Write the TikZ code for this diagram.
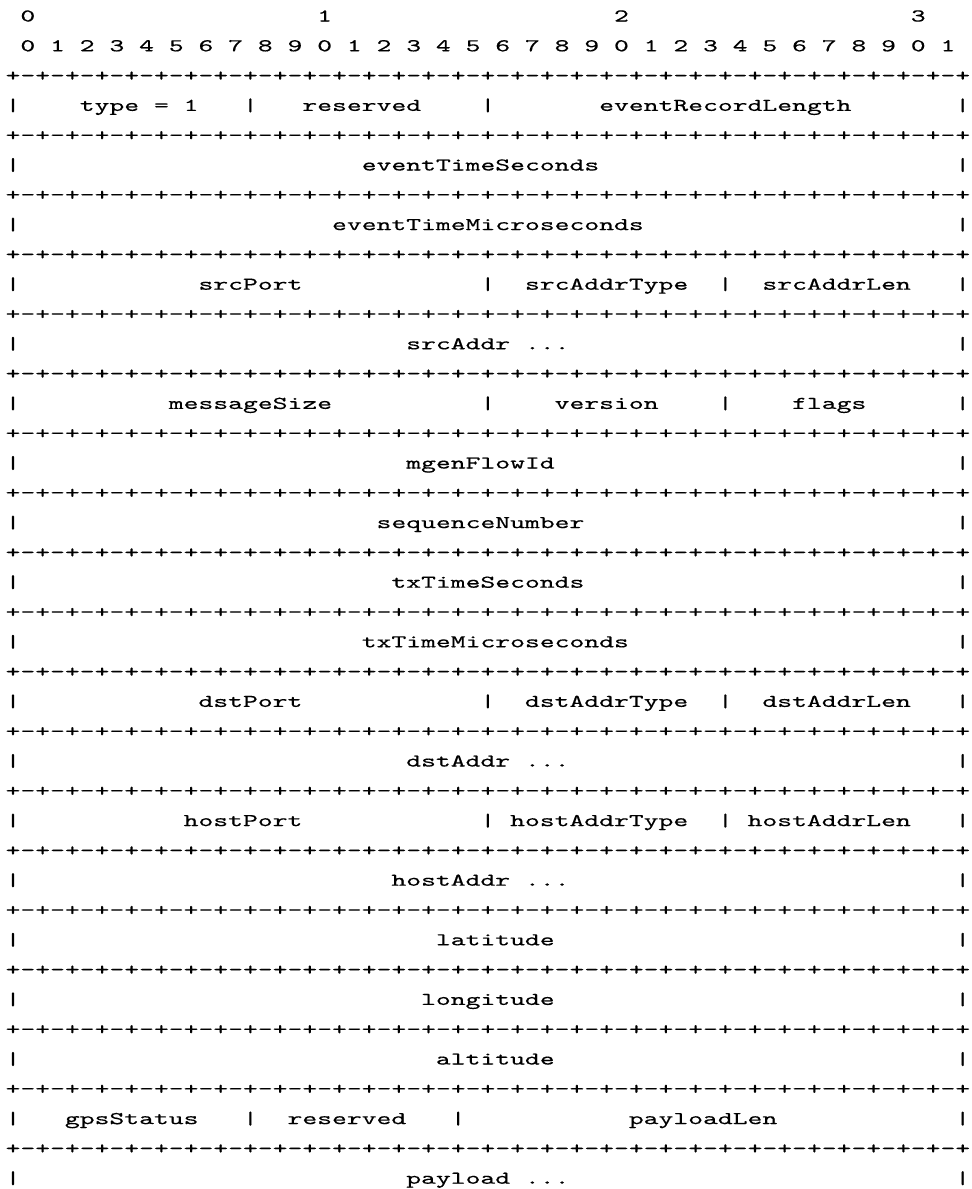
\documentclass[tikz,border=0pt]{standalone}
\usepackage{fontspec}
\newfontfamily\gridfont{lmmono10-regular}[Extension=.otf, FakeStretch=1.5704, FakeBold=0.4]
\newcommand\tripledot{...}
\tikzset{
  ch/.style={anchor=base west, inner sep=0pt, outer sep=0pt, text=black,
             font=\gridfont\fontsize{9}{9}\selectfont},
}
\begin{document}
\begin{tikzpicture}[x=0.5pt,y=-0.5pt]
\fill[white] (0,0) rectangle (972,1189);
\useasboundingbox (0,0) rectangle (972,1189);
% column left edge: 5.58 + 14.84*col ; baseline: 21.5 + 29.8*line
% bit-number header
\foreach \coli/\txti [count=\n] in {1/0, 21/1, 41/2, 61/3}
  \node[ch] (hd\n) at ({5.58+14.84*\coli},{21.5}) {\txti};
\foreach \k in {0,...,31}{
  \pgfmathtruncatemacro\dg{mod(\k,10)}
  \node[ch] (bit\k) at ({5.58+14.84*(2*\k+1)},{21.5+29.8}) {\dg};
}
% separator lines
\foreach \k in {2,4,...,38}
  \node[ch] (sep\k) at (5.58,{21.5+29.8*\k}) {+-+-+-+-+-+-+-+-+-+-+-+-+-+-+-+-+-+-+-+-+-+-+-+-+-+-+-+-+-+-+-+-+};
% left and right bars of every field row
\foreach \k in {3,5,...,39}{
  \node[ch] (lb\k) at (5.58,{21.5+29.8*\k}) {|};
  \node[ch] (rb\k) at ({5.58+14.84*64},{21.5+29.8*\k}) {|};
}
% field texts and inner bars: line/column/text
\foreach \rowi/\coli/\txti [count=\n] in {
  3/5/type, 3/10/=, 3/12/1, 3/16/|, 3/20/reserved, 3/32/|, 3/40/eventRecordLength,
  5/24/eventTimeSeconds,
  7/22/eventTimeMicroseconds,
  9/13/srcPort, 9/32/|, 9/35/srcAddrType, 9/48/|, 9/51/srcAddrLen,
  11/27/srcAddr, 11/35/\tripledot,
  13/11/messageSize, 13/32/|, 13/37/version, 13/48/|, 13/53/flags,
  15/27/mgenFlowId,
  17/25/sequenceNumber,
  19/26/txTimeSeconds,
  21/24/txTimeMicroseconds,
  23/13/dstPort, 23/32/|, 23/35/dstAddrType, 23/48/|, 23/51/dstAddrLen,
  25/27/dstAddr, 25/35/\tripledot,
  27/12/hostPort, 27/32/|, 27/34/hostAddrType, 27/48/|, 27/50/hostAddrLen,
  29/26/hostAddr, 29/35/\tripledot,
  31/29/latitude,
  33/28/longitude,
  35/29/altitude,
  37/4/gpsStatus, 37/16/|, 37/19/reserved, 37/30/|, 37/42/payloadLen,
  39/27/payload, 39/35/\tripledot}
  \node[ch] (f\n) at ({5.58+14.84*\coli},{21.5+29.8*\rowi}) {\txti};
\end{tikzpicture}
\end{document}
